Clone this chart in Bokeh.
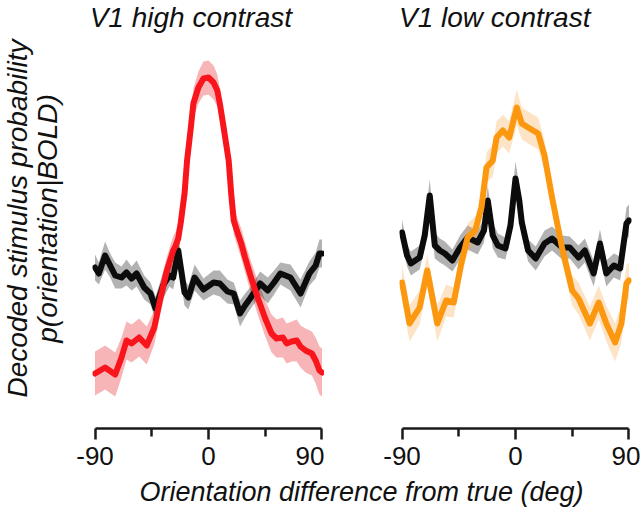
from bokeh.plotting import figure
from bokeh.models import Range1d, FixedTicker, Label
from bokeh.layouts import row, column
from bokeh.embed import file_html
from bokeh.resources import INLINE

# ---------------- data (arbitrary probability units) ----------------
titles = ["V1 high contrast", "V1 low contrast"]
x_label = "Orientation difference from true (deg)"
y_label_1 = "Decoded stimulus probability"
y_label_2 = "p(orientation|BOLD)"
major_ticks = [-90, 0, 90]
major_tick_labels = ["-90", "0", "90"]
minor_ticks = [-45, 45]

# high contrast, decoded (red)
hc_deg = [-90, -82, -74, -69, -65, -61, -55, -49, -43, -38, -33, -28, -26, -24, -22, -19, -17, -14, -12, -8,
          -4, 0, 4, 7, 9, 12, 16, 18, 20, 23, 26, 29, 34, 39, 45, 50, 54, 59, 62, 66,
          70, 73, 77, 82, 85, 88, 90]
hc_val = [2.7, 3.3, 2.6, 4.3, 6.0, 5.7, 6.3, 5.5, 7.3, 10.3, 13.0, 15.0, 15.5, 16.2, 17.8, 20.7, 24.0, 27.3, 29.7, 31.3,
          32.2, 32.3, 31.8, 31.0, 29.7, 27.3, 24.0, 20.7, 18.0, 16.8, 15.7, 14.3, 12.2, 10.3, 8.2, 6.7, 6.2, 6.3, 5.7, 5.9,
          6.0, 5.4, 5.0, 4.7, 4.0, 3.0, 2.8]
hc_err = [2.2, 2.2, 2.2, 2.0, 1.9, 1.9, 1.9, 1.9, 1.7, 1.5, 1.4, 1.4, 1.4, 1.4, 1.4, 1.4, 1.4, 1.4, 1.5, 1.6,
          1.7, 1.7, 1.7, 1.6, 1.5, 1.4, 1.4, 1.4, 1.4, 1.4, 1.5, 1.5, 1.6, 1.7, 1.8, 1.9, 1.9, 2.0, 2.0, 2.0,
          2.1, 2.1, 2.2, 2.2, 2.3, 2.4, 2.4]

# high contrast, control (black)
hcc_deg = [-90, -87, -82, -78, -74, -69, -65, -61, -57, -51, -46, -42, -36, -31, -28, -24, -19, -16, -11, -4,
           4, 9, 15, 20, 25, 29, 33, 41, 47, 52, 57, 65, 73, 80, 85, 88, 90]
hcc_val = [13.3, 12.7, 14.5, 13.5, 12.5, 12.3, 12.8, 12.2, 12.7, 11.3, 10.7, 9.2, 11.5, 12.5, 12.3, 15.0, 10.8, 10.3, 12.3, 11.1,
           11.8, 11.7, 10.9, 10.7, 8.7, 9.5, 10.2, 11.7, 11.0, 11.8, 12.7, 12.3, 10.7, 12.7, 13.5, 14.7, 14.7]
hcc_err = [1.3, 1.1, 1.4, 1.2, 1.3, 1.1, 1.3, 1.2, 1.3, 1.2, 1.1, 1.2, 1.3, 1.1, 1.2, 1.4, 1.3, 1.2, 1.3, 1.1,
           1.2, 1.3, 1.2, 1.1, 1.3, 1.2, 1.1, 1.2, 1.3, 1.2, 1.1, 1.3, 1.4, 1.2, 1.3, 1.4, 1.4]

# low contrast, decoded (orange)
lc_deg = [-90, -84, -76, -70, -62, -55, -49, -43, -38, -32, -27, -23, -18, -15, -10, -5, 1, 5, 10, 18,
          23, 29, 37, 45, 50, 59, 66, 72, 79, 84, 88, 90]
lc_val = [11.8, 7.7, 9.3, 13.0, 7.7, 10.0, 9.8, 13.7, 16.3, 17.0, 19.3, 23.3, 24.0, 26.3, 27.0, 26.3, 29.3, 27.7, 27.3, 26.7,
          24.5, 20.3, 15.2, 11.0, 10.2, 7.7, 9.8, 7.7, 5.8, 7.7, 11.7, 12.0]
lc_err = [1.8, 1.8, 1.7, 1.6, 1.8, 1.6, 1.5, 1.5, 1.4, 1.4, 1.4, 1.5, 1.6, 1.6, 1.6, 1.6, 1.8, 1.6, 1.6, 1.6,
          1.5, 1.4, 1.4, 1.5, 1.6, 1.7, 1.7, 1.8, 1.9, 1.9, 1.8, 1.8]

# low contrast, control (black)
lcc_deg = [-90, -86, -83, -76, -72, -68, -64, -60, -56, -50, -44, -38, -30, -25, -22, -18, -14, -8, -4, 0,
           3, 5, 10, 16, 23, 29, 37, 43, 50, 55, 62, 67, 72, 78, 83, 88, 90]
lcc_val = [16.8, 14.5, 13.7, 14.3, 16.5, 20.5, 15.5, 15.0, 14.7, 14.0, 15.3, 16.3, 15.8, 17.0, 20.0, 16.5, 15.5, 15.2, 17.5, 22.2,
           20.0, 17.8, 15.0, 14.2, 15.7, 16.2, 15.3, 15.3, 14.3, 15.0, 12.7, 15.7, 12.7, 13.5, 13.2, 17.7, 18.0]
lcc_err = [1.3, 1.1, 1.2, 1.2, 1.3, 1.6, 1.3, 1.2, 1.2, 1.1, 1.2, 1.2, 1.2, 1.2, 1.5, 1.3, 1.2, 1.1, 1.3, 1.7,
           1.5, 1.3, 1.1, 1.2, 1.3, 1.2, 1.2, 1.1, 1.2, 1.2, 1.3, 1.4, 1.3, 1.2, 1.2, 1.6, 1.6]

# ---------------- styling ----------------
FONT = "Liberation Sans"
TXT = "#111111"
RED, RED_BAND = "#f8161c", "#f05a60"
ORANGE, ORANGE_BAND = "#fb9810", "#f7a443"
BLACK, BLACK_BAND = "#0c0c0c", "#000000"
Y0, Y1 = -2.8, 40.0
FRAME_W, FRAME_H = 232, 428
BOTTOM = 46
TOP_H = FRAME_H + BOTTOM          # 474
TOTAL_W, TOTAL_H = 640, 507
YLAB_W = 70


def make_panel(border_left, border_right, title, title_x):
    p = figure(width=border_left + FRAME_W + border_right, height=TOP_H,
               output_backend="svg", toolbar_location=None,
               x_range=Range1d(-92, 92), y_range=Range1d(Y0, Y1),
               min_border_left=border_left, min_border_right=border_right,
               min_border_top=0, min_border_bottom=BOTTOM)
    p.outline_line_color = None
    p.grid.visible = False
    p.yaxis.visible = False
    ax = p.xaxis[0]
    ax.bounds = (-90, 90)
    ax.ticker = FixedTicker(ticks=major_ticks, minor_ticks=minor_ticks)
    ax.major_label_overrides = dict(zip(major_ticks, major_tick_labels))
    ax.axis_line_width = 2.5
    ax.axis_line_color = "#1a1a1a"
    ax.major_tick_line_width = 2.5
    ax.major_tick_line_color = "#1a1a1a"
    ax.major_tick_out = 11
    ax.major_tick_in = 0
    ax.minor_tick_line_width = 2.5
    ax.minor_tick_line_color = "#1a1a1a"
    ax.minor_tick_out = 8
    ax.minor_tick_in = 0
    ax.major_label_text_font = FONT
    ax.major_label_text_font_size = "26px"
    ax.major_label_text_color = TXT
    ax.major_label_standoff = 7
    p.add_layout(Label(x=title_x, y=38.3, text=title, text_font=FONT, text_font_size="28px",
                       text_font_style="italic", text_align="center", text_baseline="alphabetic",
                       text_color=TXT))
    return p


def add_band(p, x, y, e, band_color, band_alpha):
    lo = [a - b for a, b in zip(y, e)]
    hi = [a + b for a, b in zip(y, e)]
    p.varea(x=x, y1=lo, y2=hi, fill_color=band_color, fill_alpha=band_alpha)


def add_line(p, x, y, color):
    p.line(x=x, y=y, line_color=color, line_width=6, line_join="round", line_cap="round")


p1 = make_panel(92 - YLAB_W, 0, titles[0], -14.0)
add_band(p1, hc_deg, hc_val, hc_err, RED_BAND, 0.45)
add_band(p1, hcc_deg, hcc_val, hcc_err, BLACK_BAND, 0.3)
add_line(p1, hcc_deg, hcc_val, BLACK)
add_line(p1, hc_deg, hc_val, RED)

p2 = make_panel(75, TOTAL_W - 92 - FRAME_W - 75 - FRAME_W, titles[1], -16.5)
add_band(p2, lcc_deg, lcc_val, lcc_err, BLACK_BAND, 0.3)
add_band(p2, lc_deg, lc_val, lc_err, ORANGE_BAND, 0.3)
add_line(p2, lcc_deg, lcc_val, BLACK)
add_line(p2, lc_deg, lc_val, ORANGE)


def text_strip(w, h, frame_h):
    p = figure(width=w, height=h, output_backend="svg", toolbar_location=None,
               x_range=Range1d(0, w), y_range=Range1d(0, frame_h), min_border=0)
    p.outline_line_color = None
    p.grid.visible = False
    p.axis.visible = False
    return p


# y-axis label: two rotated lines in a narrow strip on the left
# (its frame is aligned with the panels' frames, i.e. FRAME_H tall)
p0 = text_strip(YLAB_W, TOP_H, FRAME_H)
for xx, txt in ((17, y_label_1), (47, y_label_2)):
    p0.add_layout(Label(x=xx, y=FRAME_H - 218, text=txt, angle=1.5708, text_font=FONT,
                        text_font_size="28px", text_font_style="italic", text_align="center",
                        text_baseline="middle", text_color=TXT))

# shared x-axis label below both panels
p3 = text_strip(TOTAL_W, TOTAL_H - TOP_H, TOTAL_H - TOP_H)
p3.add_layout(Label(x=361, y=16, text=x_label, text_font=FONT, text_font_size="27px",
                    text_font_style="italic", text_align="center", text_baseline="alphabetic",
                    text_color=TXT))

layout = column(row(p0, p1, p2), p3)
open("out.html", "w").write(file_html(layout, INLINE))
